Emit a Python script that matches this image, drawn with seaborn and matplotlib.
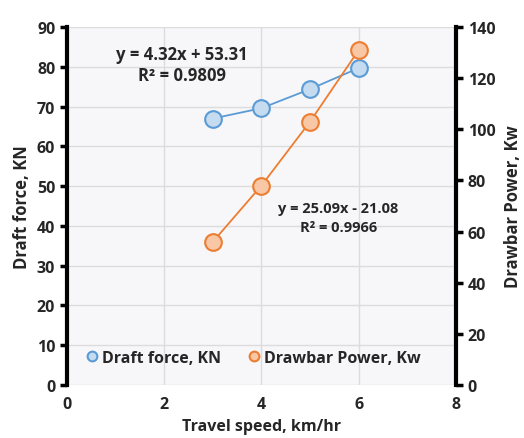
import matplotlib
matplotlib.use("Agg")
import matplotlib.pyplot as plt
import seaborn as sns
import pandas as pd

# data
speed = [3, 4, 5, 6]
draft_force = [67.0, 69.6, 74.4, 79.7]
drawbar_power = [56.0, 78.0, 103.0, 131.0]

x_ticks = [0, 2, 4, 6, 8]
left_ticks = list(range(0, 91, 10))
right_ticks = list(range(0, 141, 20))

sns.set_theme(style="white")
plt.rcParams['font.family'] = ['Open Sans', 'DejaVu Sans']
plt.rcParams['font.weight'] = 'bold'

df = pd.DataFrame({"speed": speed, "draft": draft_force, "power": drawbar_power})

blue, blue_fill = "#5B9BD5", "#C5DCF0"
orange, orange_fill = "#ED7D31", "#F7C7A6"

fig = plt.figure(figsize=(5.24, 4.39), dpi=100)
ax = fig.add_axes([0.128, 0.121, 0.742, 0.815])
ax.set_facecolor("#F7F7F9")
ax2 = ax.twinx()

sns.lineplot(data=df, x="speed", y="draft", ax=ax, color=blue, lw=1.3,
             marker="o", markersize=12, markerfacecolor=blue_fill,
             markeredgecolor=blue, markeredgewidth=1.5, zorder=3)
sns.lineplot(data=df, x="speed", y="power", ax=ax2, color=orange, lw=1.3,
             marker="o", markersize=12, markerfacecolor=orange_fill,
             markeredgecolor=orange, markeredgewidth=1.5, zorder=3)

ax.set_xlim(0, 8)
ax.set_ylim(0, 90)
ax2.set_ylim(0, 140)
ax.set_xticks(x_ticks)
ax.set_yticks(left_ticks)
ax2.set_yticks(right_ticks)
ax.grid(True, color="#DCDCDC", lw=1)

for a in (ax, ax2):
    for s in a.spines.values():
        s.set_visible(False)
    a.tick_params(labelsize=11.5, length=5, width=2.5, color="black")
ax.spines["left"].set_visible(True)
ax.spines["left"].set_linewidth(3)
ax.spines["left"].set_color("black")
ax2.spines["right"].set_visible(True)
ax2.spines["right"].set_linewidth(3)
ax2.spines["right"].set_color("black")
ax.tick_params(axis="x", length=0, pad=8)
ax.tick_params(axis="y", left=True, direction="out")
ax2.tick_params(axis="y", right=True, direction="out")

ax.set_xlabel("Travel speed, km/hr", fontsize=11.5, fontweight="bold", labelpad=4)
ax.set_ylabel("Draft force, KN", fontsize=12, fontweight="bold", labelpad=4)
ax2.set_ylabel("Drawbar Power, Kw", fontsize=12, fontweight="bold", labelpad=6)

ax.text(2.37, 80.6, "y = 4.32x + 53.31\nR² = 0.9809", ha="center", va="center",
        fontsize=12, fontweight="bold", linespacing=1.25)
ax2.text(5.58, 65.5, "y = 25.09x - 21.08\nR² = 0.9966", ha="center", va="center",
         fontsize=10.5, fontweight="bold", linespacing=1.4)

h1 = plt.Line2D([], [], ls="none", marker="o", markersize=7, markerfacecolor=blue_fill,
                markeredgecolor=blue, markeredgewidth=1.5)
h2 = plt.Line2D([], [], ls="none", marker="o", markersize=7, markerfacecolor=orange_fill,
                markeredgecolor=orange, markeredgewidth=1.5)
ax2.legend([h1, h2], ["Draft force, KN", "Drawbar Power, Kw"], loc="center",
           bbox_to_anchor=(0.477, 0.075), ncol=2, frameon=False, fontsize=11.5,
           handletextpad=0.1, columnspacing=1.6, handlelength=1.0)

fig.savefig("out.png", dpi=100, facecolor="white")
